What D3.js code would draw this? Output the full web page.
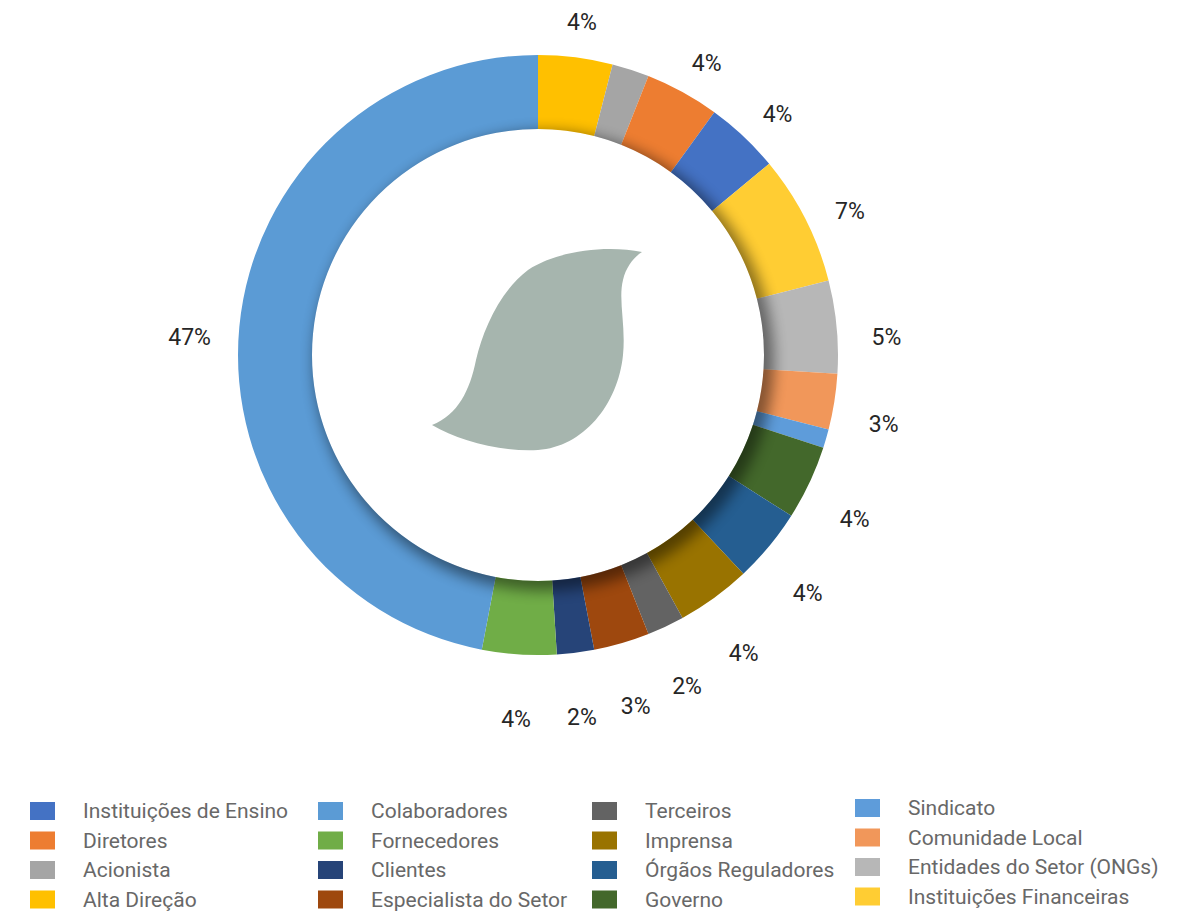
<!DOCTYPE html>
<html lang="pt">
<head>
<meta charset="utf-8">
<script src="https://d3js.org/d3.v7.min.js"></script>
<style>
  body { margin: 0; background: #fff; }
  svg text { font-family: "Roboto", "Liberation Sans", sans-serif; }
  .lbl { font-size: 23px; fill: #262626; }
  .leg { font-size: 21px; fill: #686868; }
</style>
</head>
<body>
<svg id="chart" width="1189" height="911"></svg>
<script>
// legend order (also the series order)
var categories = ["Instituições de Ensino", "Diretores", "Acionista", "Alta Direção",
                  "Colaboradores", "Fornecedores", "Clientes", "Especialista do Setor",
                  "Terceiros", "Imprensa", "Órgãos Reguladores", "Governo",
                  "Sindicato", "Comunidade Local", "Entidades do Setor (ONGs)", "Instituições Financeiras"];
var values = [4, 4, 2, 4, 47, 4, 2, 3, 2, 4, 4, 4, 1, 3, 5, 7];
var colors = ["#4472C4", "#ED7D31", "#A5A5A5", "#FFC000", "#5B9BD5", "#70AD47", "#264478", "#9E480E",
              "#636363", "#997300", "#255E91", "#43682B", "#5E9CDA", "#F1975A", "#B7B7B7", "#FFCD33"];
// clockwise from 12 o'clock
var sliceOrder = ["Alta Direção", "Acionista", "Diretores", "Instituições de Ensino",
                  "Instituições Financeiras", "Entidades do Setor (ONGs)", "Comunidade Local", "Sindicato",
                  "Governo", "Órgãos Reguladores", "Imprensa", "Terceiros",
                  "Especialista do Setor", "Clientes", "Fornecedores", "Colaboradores"];
var hiddenLabels = ["Acionista", "Sindicato"];

var cx = 538, cy = 355, outerR = 300, innerR = 226, labelR = 350, labelDy = 15;

var svg = d3.select("#chart");
var color = d3.scaleOrdinal(categories, colors);
var valueOf = {};
categories.forEach((c, i) => valueOf[c] = values[i]);

var data = sliceOrder.map(c => ({ name: c, value: valueOf[c] }));
var pie = d3.pie().value(d => d.value).sort(null);
var arcs = pie(data);
var arc = d3.arc().innerRadius(innerR).outerRadius(outerR);

var defs = svg.append("defs");
defs.append("clipPath").attr("id", "ring")
  .append("path")
  .attr("d", d3.arc().innerRadius(innerR).outerRadius(outerR).startAngle(0).endAngle(2 * Math.PI)());
defs.append("filter").attr("id", "blur").attr("x", "-20%").attr("y", "-20%").attr("width", "140%").attr("height", "140%")
  .append("feGaussianBlur").attr("stdDeviation", 7);

var g = svg.append("g").attr("transform", "translate(" + cx + "," + cy + ")");

g.selectAll("path.slice").data(arcs).enter()
  .append("path").attr("class", "slice")
  .attr("d", arc)
  .attr("fill", d => color(d.data.name));

// inner shadow cast by the hole
g.append("g").attr("clip-path", "url(#ring)")
  .append("circle")
  .attr("cx", 6).attr("cy", 6).attr("r", innerR + 4)
  .attr("fill", "#000").attr("opacity", 0.45)
  .attr("filter", "url(#blur)");

// leaf in the middle
g.append("path")
  .attr("d", "M104,-103 C70,-110 20,-105 -10,-85 C-38,-64 -55,-25 -62,5 C-68,35 -80,60 -106,70 " +
             "C-80,85 -40,97 0,95 C45,92 80,50 85,0 C88,-30 80,-55 85,-75 C88,-88 96,-98 104,-103 Z")
  .attr("fill", "#A6B5AE");

// percentage labels
g.selectAll("text.lbl").data(arcs.filter(d => hiddenLabels.indexOf(d.data.name) < 0)).enter()
  .append("text").attr("class", "lbl")
  .attr("text-anchor", "middle").attr("dominant-baseline", "central")
  .attr("x", d => labelR * Math.sin((d.startAngle + d.endAngle) / 2))
  .attr("y", d => labelDy - labelR * Math.cos((d.startAngle + d.endAngle) / 2))
  .text(d => d3.format(".0%")(d.value / d3.sum(values)));

// legend, 4 columns of 4
var colX = [30, 318, 592, 855];
var rowY = 811, rowH = 29.5;
var leg = svg.selectAll("g.legend").data(categories).enter()
  .append("g").attr("class", "legend")
  .attr("transform", (d, i) => {
    var col = Math.floor(i / 4), row = i % 4;
    return "translate(" + colX[col] + "," + (rowY + row * rowH - (col === 3 ? 3 : 0)) + ")";
  });
leg.append("rect").attr("x", 0).attr("y", -9).attr("width", 25).attr("height", 18)
  .attr("fill", d => color(d));
leg.append("text").attr("class", "leg").attr("x", 53).attr("y", 0)
  .attr("dominant-baseline", "central").text(d => d);
</script>
</body>
</html>
